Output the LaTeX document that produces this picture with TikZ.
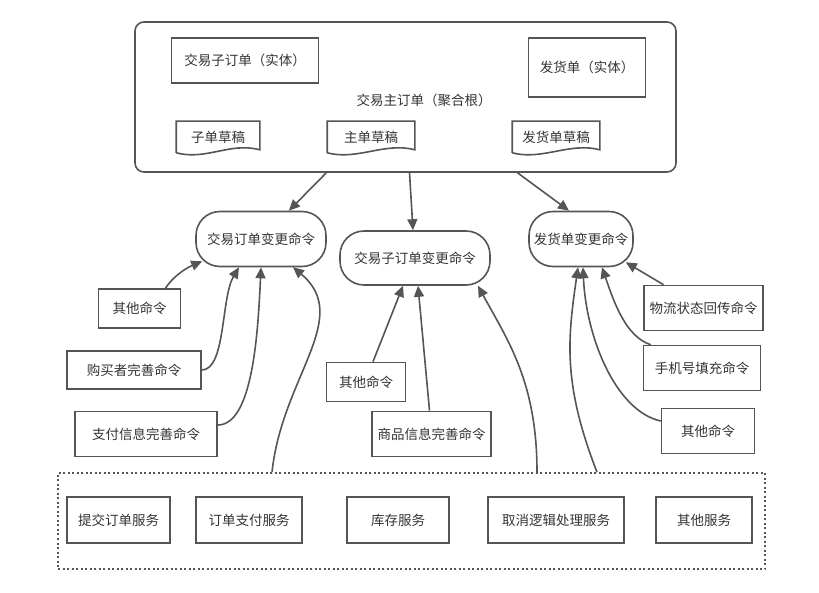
\documentclass[tikz,border=0pt]{standalone}
\usepackage{fontspec}
\setmainfont{Noto Sans CJK SC}
\usetikzlibrary{arrows.meta,calc}
\definecolor{linegray}{HTML}{555555}
\definecolor{textgray}{HTML}{333333}
\tikzset{
  every node/.style={font=\fontsize{13.5pt}{16pt}\selectfont,text=textgray},
  box/.style={draw,rectangle,minimum height=45pt,inner sep=0pt},
  cmd/.style={draw,rectangle,rounded corners=24pt,minimum height=55pt,inner sep=0pt},
  draft/.style={rectangle,minimum height=30pt,inner sep=0pt},
  link/.style={->,draw=linegray}
}

\begin{document}
\begin{tikzpicture}[x=1pt,y=-1pt,line width=1.6pt,color=linegray,>={Triangle[length=11pt,width=10pt]}]
  \useasboundingbox (0,0) rectangle (819,593);
  % aggregate root
  \node[draw,rounded corners=9pt,minimum width=541pt,minimum height=150pt] (root) at (405.5,97) {};
  \node (rootlbl) at (424,100) {交易主订单（聚合根）};
  \node[box,minimum width=147pt] (subent) at (245,60.5) {交易子订单（实体）};
  \node[box,minimum width=117pt,minimum height=59pt] (shipent) at (587,67.5) {发货单（实体）};
  \node[draft,minimum width=82pt] (subdraft) at (218,137) {子单草稿};
  \node[draft,minimum width=86pt] (maindraft) at (371,137) {主单草稿};
  \node[draft,minimum width=86pt] (shipdraft) at (556,137) {发货单草稿};
  \foreach \d in {subdraft,maindraft,shipdraft}
    \draw (\d.south west) -- (\d.north west) -- (\d.north east) -- ([yshift=3pt]\d.south east)
      .. controls +(-30,-8) and +(30,8) .. (\d.south west);
  % change commands
  \node[cmd,minimum width=130pt] (ordercmd) at (261,239) {交易订单变更命令};
  \node[cmd,minimum width=150pt,minimum height=54pt] (subcmd) at (415,258) {交易子订单变更命令};
  \node[cmd,minimum width=104pt] (shipcmd) at (581,239) {发货单变更命令};
  \draw[link] ($(root.south west)!0.354!(root.south east)$) -- (ordercmd);
  \draw[link] ([xshift=4pt]root.south) -- ([xshift=-2pt]subcmd.north);
  \draw[link] ([xshift=112pt]root.south) -- ([xshift=-12pt]shipcmd.north);
  % left side
  \node[box,minimum width=82pt,minimum height=39pt] (othera) at (139.5,308.5) {其他命令};
  \node[box,minimum width=134pt,minimum height=38pt] (buyer) at (134,370) {购买者完善命令};
  \node[box,minimum width=142pt] (payinfo) at (146,434) {支付信息完善命令};
  \draw[link] ([xshift=26pt]othera.north) .. controls +(10,-15) and +(-12,5) .. ($(ordercmd.south west)+(7,-6)$);
  \draw[link] (buyer.east) .. controls +(24,0) and +(-18,30) .. ([xshift=-22pt]ordercmd.south);
  \draw[link] ([yshift=9pt]payinfo.east) .. controls +(35,0) and +(-3,65) .. (ordercmd.south);
  % middle
  \node[box,minimum width=79pt,minimum height=39pt] (otherb) at (366,382) {其他命令};
  \node[box,minimum width=119pt] (goods) at (431.5,434) {商品信息完善命令};
  \draw[link] ([xshift=7pt]otherb.north) -- ([xshift=-12pt]subcmd.south);
  \draw[link] ([xshift=-2pt]goods.north) -- ([xshift=3pt]subcmd.south);
  % right side
  \node[box,minimum width=119pt] (logistics) at (703.5,308) {物流状态回传命令};
  \node[box,minimum width=117pt] (phone) at (702,368) {手机号填充命令};
  \node[box,minimum width=93pt] (otherc) at (708,431) {其他命令};
  \draw[link] ([xshift=-40pt]logistics.north) -- ($(shipcmd.south east)+(-8,-5)$);
  \draw[link] ([xshift=8pt]phone.north west) .. controls +(-25,-8) and +(12,35) .. ([xshift=21pt]shipcmd.south);
  \draw[link] ([yshift=10pt]otherc.west) .. controls +(-45,-10) and +(3,70) .. ([xshift=2pt]shipcmd.south);
  % services
  \node[draw,dash pattern=on 2pt off 2.5pt,minimum width=707pt,minimum height=96pt] (services) at (411.5,521) {};
  \node[box,minimum width=103pt,minimum height=46pt] (submit) at (118.5,520) {提交订单服务};
  \node[box,minimum width=106pt,minimum height=46pt] (paysvc) at (249,520) {订单支付服务};
  \node[box,minimum width=102pt,minimum height=46pt] (stock) at (398,520) {库存服务};
  \node[box,minimum width=136pt,minimum height=46pt] (cancel) at (556,520) {取消逻辑处理服务};
  \node[box,minimum width=96pt,minimum height=46pt] (othersvc) at (704,520) {其他服务};
  \draw[link] ([xshift=-139.5pt]services.north) .. controls +(10,-95) and +(60,50) .. ([xshift=32pt]ordercmd.south);
  \draw[link] ([xshift=125.5pt]services.north) .. controls +(0,-90) and +(30,55) .. ([xshift=63pt]subcmd.south);
  \draw[link] ([xshift=185.5pt]services.north) .. controls +(-35,-90) and +(-10,70) .. ([xshift=-3pt]shipcmd.south);
\end{tikzpicture}
\end{document}
